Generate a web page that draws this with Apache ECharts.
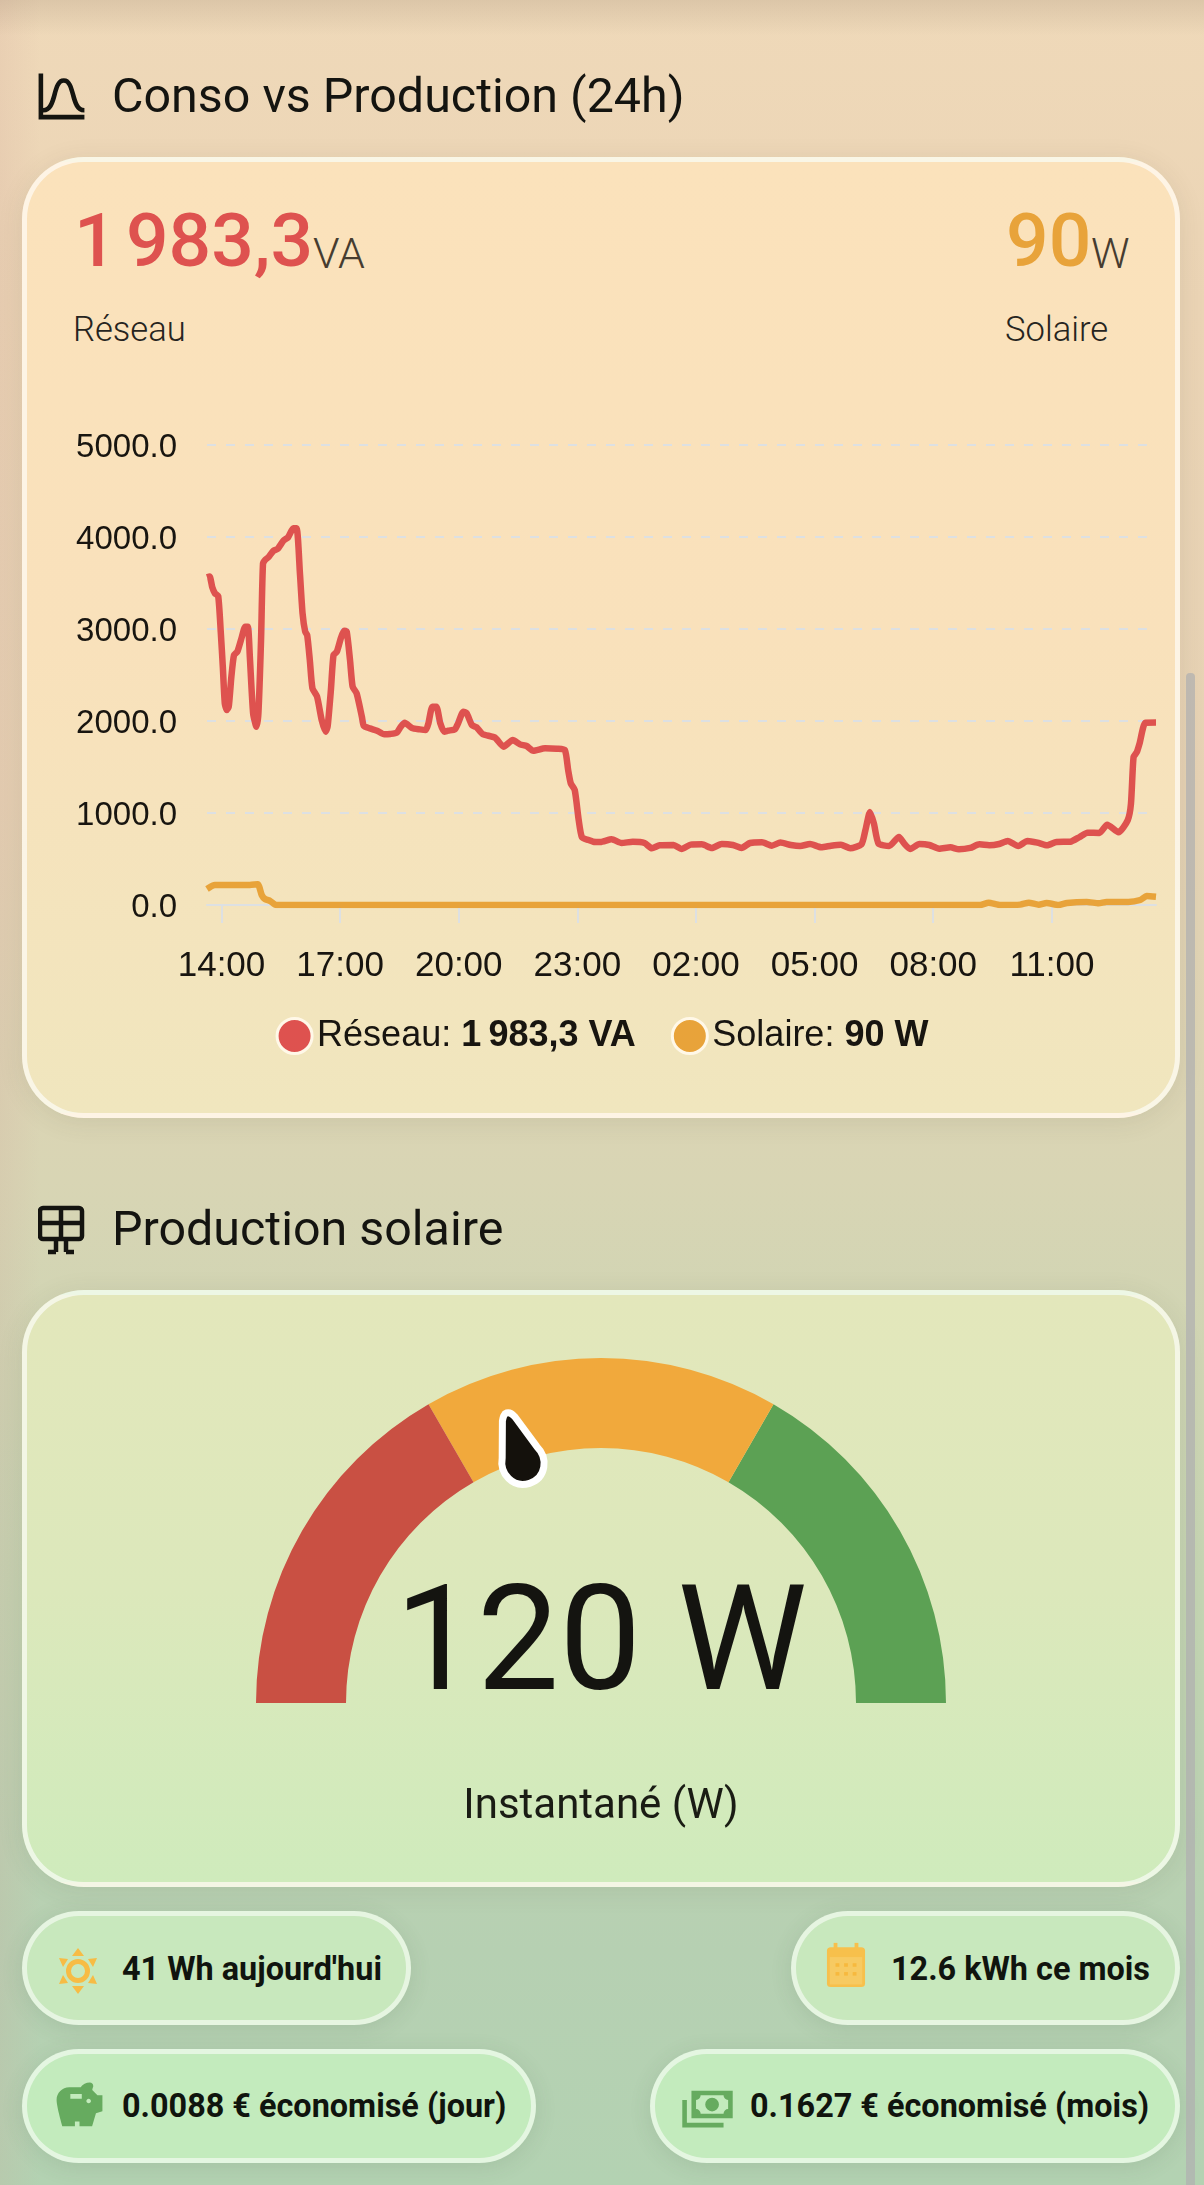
<!DOCTYPE html>
<html lang="fr">
<head>
<meta charset="utf-8">
<title>Conso vs Production</title>
<script src="https://cdn.jsdelivr.net/npm/echarts@6/dist/echarts.min.js"></script>
<style>
  html, body { margin: 0; padding: 0; }
  body {
    position: relative; width: 1204px; height: 2185px; overflow: hidden;
    font-family: Roboto, sans-serif; color: #141410;
    background:
      linear-gradient(180deg, rgba(120,100,80,.16) 0, rgba(120,100,80,0) 36px),
      linear-gradient(90deg, rgba(205,160,150,.16) 0, rgba(205,160,150,0) 40px),
      linear-gradient(180deg, #efd9b9 0, #ebd4b5 300px, #e6d2b4 800px, #d8d5b4 1180px, #c3d4b2 1600px, #b6d0b2 1950px, #b3d2b2 2185px);
  }
  .abs { position: absolute; white-space: nowrap; }
  .card {
    position: absolute; left: 22px; width: 1158px; box-sizing: border-box;
    border: 5px solid rgba(255,255,255,.62); border-radius: 62px;
    box-shadow: 0 4px 26px rgba(70,70,50,.10);
  }
  .pill {
    position: absolute; box-sizing: border-box; height: 114px;
    border: 5px solid rgba(255,255,255,.55); border-radius: 57px;
    box-shadow: 0 4px 22px rgba(60,80,60,.12);
  }
  .head { font-size: 48.4px; line-height: 56px; }
  .big { font-weight: 500; font-size: 75px; line-height: 88px; }
  .unit { font-weight: 300; font-size: 43px; line-height: 48px; color: #463c30; }
  .sub { font-weight: 300; font-size: 34.6px; line-height: 40px; color: #262420; }
  .pilltxt { font-weight: 700; font-size: 32.4px; line-height: 40px; color: #10140e; }
  svg.abs { display: block; }
  #chart { position: absolute; left: 0; top: 0; width: 1204px; height: 2185px; z-index: 2; }
  #bar { position: absolute; left: 1186px; top: 673px; width: 9px; height: 1512px; background: rgba(176,176,176,.72); border-radius: 4px 4px 0 0; }
</style>
</head>
<body>
  <svg class="abs" style="left:34px;top:69px" width="55" height="55" viewBox="0 0 24 24"><path fill="#141410" d="M9.96,11.31C10.82,8.1 11.5,6 13,6C14.5,6 15.18,8.1 16.04,11.31C17,14.92 18.1,19 22,19V17C19.8,17 19,14.54 17.97,10.8C17.08,7.46 16.15,4 13,4C9.85,4 8.92,7.46 8.03,10.8C7.03,14.54 6.2,17 4,17V2H2V22H22V20H4V19C7.9,19 9,14.92 9.96,11.31Z"/></svg>
  <div class="abs head" style="left:112px;top:68px">Conso vs Production (24h)</div>

  <div class="card" style="top:157px;height:961px;background:linear-gradient(180deg,#fbe2bb 0,#f9e1bb 50%,#f0e6be 100%)"></div>
  <div class="abs big" style="left:74px;top:196px;color:#de524f">1&#8239;983,3</div>
  <div class="abs unit" style="left:313px;top:229px">VA</div>
  <div class="abs sub" style="left:73px;top:309px">Réseau</div>
  <div class="abs big" style="left:1006px;top:196px;color:#e8a33a">90</div>
  <div class="abs unit" style="left:1091px;top:229px">W</div>
  <div class="abs sub" style="left:1005px;top:309px">Solaire</div>

  <svg class="abs" style="left:38px;top:1205px" width="48" height="50" viewBox="0 0 48 50">
    <g fill="none" stroke="#141410" stroke-width="4.5" stroke-linejoin="round">
      <rect x="2" y="3" width="42" height="31" rx="3"/>
      <path d="M2 18H44M23 3V34M18 34V47M28 34V47M10 47H18M28 47H36"/>
    </g>
  </svg>
  <div class="abs head" style="left:112px;top:1201px">Production solaire</div>

  <div class="card" style="top:1290px;height:597px;background:linear-gradient(180deg,#e3e7bb 0,#dce8bb 50%,#cfebbc 100%)"></div>

  <div class="pill" style="left:22px;top:1911px;width:389px;background:#c8e8bd"></div>
  <svg class="abs" style="left:58px;top:1947px" width="40" height="48" viewBox="0 0 40 48">
    <circle cx="20" cy="24" r="9.5" fill="none" stroke="#f7bc45" stroke-width="5"/>
    <path fill="#f7bc45" d="M20 1l6 8h-12zM20 47l6-8h-12zM1 11l9 1-5 8zM39 11l-9 1 5 8zM1 37l9-1-5-8zM39 37l-9-1 5-8z"/>
  </svg>
  <div class="abs pilltxt" style="left:122px;top:1949px">41 Wh aujourd'hui</div>

  <div class="pill" style="left:791px;top:1911px;width:389px;background:#c8e8bd"></div>
  <svg class="abs" style="left:826px;top:1942px" width="40" height="46" viewBox="0 0 42 52" preserveAspectRatio="none">
    <rect x="1" y="6" width="40" height="45" rx="4" fill="#f7c04c"/>
    <rect x="8" y="1" width="4" height="8" fill="#f7c04c"/><rect x="30" y="1" width="4" height="8" fill="#f7c04c"/>
    <rect x="4" y="17" width="34" height="31" fill="#f7ca62"/>
    <g fill="#f7b93e"><rect x="10" y="24" width="4" height="4"/><rect x="19" y="24" width="4" height="4"/><rect x="28" y="24" width="4" height="4"/><rect x="10" y="34" width="4" height="4"/><rect x="19" y="34" width="4" height="4"/><rect x="28" y="34" width="4" height="4"/></g>
  </svg>
  <div class="abs pilltxt" style="left:891px;top:1949px">12.6 kWh ce mois</div>

  <div class="pill" style="left:22px;top:2049px;width:514px;background:#c3ebbd"></div>
  <svg class="abs" style="left:52px;top:2078px" width="55" height="55" viewBox="0 0 24 24"><path fill="#66ab5f" d="M19.83 7.5L17.56 5.23C17.63 4.81 17.74 4.42 17.88 4.08C17.96 3.9 18 3.71 18 3.5C18 2.67 17.33 2 16.5 2C14.86 2 13.41 2.79 12.5 4H7.5C4.46 4 2 6.46 2 9.5S4.5 21 4.5 21H10V19H12V21H17.5L19.18 15.41L22 14.47V7.5H19.83M13 9H8V7H13V9M16 11C15.45 11 15 10.55 15 10S15.45 9 16 9 17 9.45 17 10 16.55 11 16 11Z"/></svg>
  <div class="abs pilltxt" style="left:122px;top:2086px">0.0088 € économisé (jour)</div>

  <div class="pill" style="left:650px;top:2049px;width:530px;background:#c3ebbd"></div>
  <svg class="abs" style="left:680px;top:2077px" width="55" height="55" viewBox="0 0 24 24"><path fill="#66ab5f" d="M5,6H23V18H5V6M14,9A3,3 0 0,1 17,12A3,3 0 0,1 14,15A3,3 0 0,1 11,12A3,3 0 0,1 14,9M9,8A2,2 0 0,1 7,10V14A2,2 0 0,1 9,16H19A2,2 0 0,1 21,14V10A2,2 0 0,1 19,8H9M1,10H3V20H19V22H1V10Z"/></svg>
  <div class="abs pilltxt" style="left:750px;top:2086px">0.1627 € économisé (mois)</div>

  <div id="bar"></div>
  <div id="chart"></div>

<script>
// Time is held in minutes counted from midnight on the first day.
const rangeStart = 818;
const rangeEnd = 2258;
const tickMinutes = [840, 1020, 1200, 1380, 1560, 1740, 1920, 2100];
const tickLabels = ['14:00', '17:00', '20:00', '23:00', '02:00', '05:00', '08:00', '11:00'];

const reseauMinutes = [818,822,826,830,835,839,842,845,848,851,855,859,864,871,876,880,883,888,893,896,900,903,907,911,919,925,934,941,949,954,959,963,967,970,974,978,985,992,998,1001,1006,1010,1015,1021,1026,1030,1035,1039,1045,1053,1056,1065,1076,1087,1096,1106,1112,1118,1129,1141,1150,1154,1160,1166,1172,1178,1184,1194,1199,1207,1212,1220,1227,1236,1255,1268,1282,1293,1303,1313,1331,1349,1361,1366,1370,1376,1382,1387,1397,1404,1415,1432,1447,1464,1482,1493,1505,1526,1538,1552,1569,1584,1599,1616,1629,1642,1660,1675,1688,1704,1718,1733,1750,1765,1780,1794,1811,1817,1824,1830,1837,1853,1868,1876,1885,1899,1914,1929,1946,1959,1976,1990,2005,2020,2033,2049,2063,2078,2093,2107,2128,2142,2154,2172,2184,2201,2215,2220,2224,2229,2233,2242,2258];
const reseauValues = [3561,3570,3453,3388,3358,2953,2590,2192,2119,2156,2482,2717,2753,2917,3025,3025,2699,2083,1938,2083,2880,3714,3757,3779,3851,3869,3960,3996,4094,4094,3605,3170,2971,2935,2663,2355,2264,2011,1884,1938,2337,2717,2753,2898,2982,2971,2663,2373,2301,2047,1946,1920,1895,1855,1859,1873,1938,1982,1924,1909,1902,1975,2156,2156,1975,1884,1895,1909,1975,2101,2083,1956,1931,1859,1819,1721,1793,1746,1728,1677,1703,1699,1685,1467,1322,1250,924,735,706,688,685,714,674,688,674,616,649,652,609,656,659,620,663,652,620,674,681,645,678,652,641,663,627,645,656,616,659,812,1011,884,667,641,739,667,609,663,652,612,627,605,620,659,649,663,696,641,696,678,649,685,688,739,786,783,873,790,920,1101,1609,1663,1754,1982,1983.3];

const solaireMinutes = [818,830,883,895,901,906,914,923,1991,2004,2022,2052,2065,2080,2092,2110,2123,2153,2171,2183,2216,2234,2244,2258];
const solaireValues = [174,217,217,225,109,65,43,0,0,25,0,4,25,4,22,0,22,33,18,33,33,54,98,90];

const yTicks = { min: 0, max: 5000, step: 1000 };
const reseauLegend = { name: 'Réseau', value: '1\u202f983,3 VA' };
const solaireLegend = { name: 'Solaire', value: '90 W' };

const gaugeValue = 120;
const gaugeMax = 300;
const gaugeBands = [100, 200, 300];
const gaugeColors = ['#c95043', '#f1a93c', '#5ca154'];
const gaugeCaption = 'Instantané (W)';

const pairs = (xs, ys) => xs.map((x, i) => [x, ys[i]]);
const chartFont = '"Liberation Sans", Arial, sans-serif';
const faint = '#dde0e2';
const redLine = '#de524f';
const orangeLine = '#e8a33a';
const legendFormats = {};
legendFormats[reseauLegend.name] = reseauLegend;
legendFormats[solaireLegend.name] = solaireLegend;

const chart = echarts.init(document.getElementById('chart'), null, { renderer: 'canvas' });
chart.setOption({
  animation: false,
  legend: {
    top: 1012, left: 'center', icon: 'circle', itemWidth: 35, itemHeight: 35, itemGap: 35,
    data: [reseauLegend.name, solaireLegend.name],
    itemStyle: { borderColor: '#fff8e8', borderWidth: 3 },
    formatter: name => `{n|${name}: }{v|${legendFormats[name].value}}`,
    textStyle: {
      rich: {
        n: { fontFamily: chartFont, fontSize: 36, color: '#181510' },
        v: { fontFamily: chartFont, fontSize: 36, fontWeight: 'bold', color: '#181510' }
      }
    }
  },
  grid: { left: 207, right: 48, top: 445, height: 460, containLabel: false },
  xAxis: {
    type: 'value', min: rangeStart, max: rangeEnd, splitLine: { show: false },
    axisLine: { show: true, onZero: true, lineStyle: { color: faint, width: 2 } },
    axisTick: { show: true, length: 18, customValues: tickMinutes, lineStyle: { color: faint, width: 2 } },
    axisLabel: {
      customValues: tickMinutes, margin: 44, fontFamily: chartFont, fontSize: 35, color: '#181510',
      formatter: v => tickLabels[tickMinutes.indexOf(v)]
    }
  },
  yAxis: {
    type: 'value', min: yTicks.min, max: yTicks.max, interval: yTicks.step,
    axisLine: { show: false }, axisTick: { show: false },
    axisLabel: { margin: 30, verticalAlign: 'top', lineHeight: 5, fontFamily: chartFont, fontSize: 33, color: '#181510', formatter: v => v.toFixed(1) },
    splitLine: { lineStyle: { color: faint, width: 2, type: [9, 10] } }
  },
  series: [
    {
      name: reseauLegend.name, type: 'line', showSymbol: false, z: 3, smooth: 0.2,
      data: pairs(reseauMinutes, reseauValues), itemStyle: { color: redLine },
      lineStyle: { color: redLine, width: 6.5, join: 'round', cap: 'butt' }
    },
    {
      name: solaireLegend.name, type: 'line', showSymbol: false, z: 4, smooth: 0.2,
      data: pairs(solaireMinutes, solaireValues), itemStyle: { color: orangeLine },
      lineStyle: { color: orangeLine, width: 6.5, join: 'round', cap: 'butt' }
    },
    {
      type: 'gauge', center: [601, 1703], radius: 345, startAngle: 180, endAngle: 0,
      min: 0, max: gaugeMax,
      axisLine: {
        roundCap: false,
        lineStyle: { width: 90, color: gaugeBands.map((b, i) => [b / gaugeMax, gaugeColors[i]]) }
      },
      axisTick: { show: false }, splitLine: { show: false }, axisLabel: { show: false },
      progress: { show: false }, anchor: { show: false },
      pointer: {
        show: true, showAbove: true, length: 74, width: 42, offsetCenter: [0, -231],
        icon: 'path://M50 0C58 0 62 8 66 16L94 104C112 140 92 186 50 186C8 186 -12 140 6 104L34 16C38 8 42 0 50 0Z',
        itemStyle: { color: '#14110c', borderColor: '#ffffff', borderWidth: 7 }
      },
      title: { offsetCenter: [0, 104], fontFamily: 'Roboto', fontSize: 42, color: '#1a1c14' },
      detail: {
        offsetCenter: [0, -51], fontFamily: 'Roboto', fontSize: 146, fontWeight: 'normal', color: '#141410',
        valueAnimation: false, formatter: '{value} W'
      },
      data: [{ value: gaugeValue, name: gaugeCaption }]
    }
  ]
});
</script>
</body>
</html>
